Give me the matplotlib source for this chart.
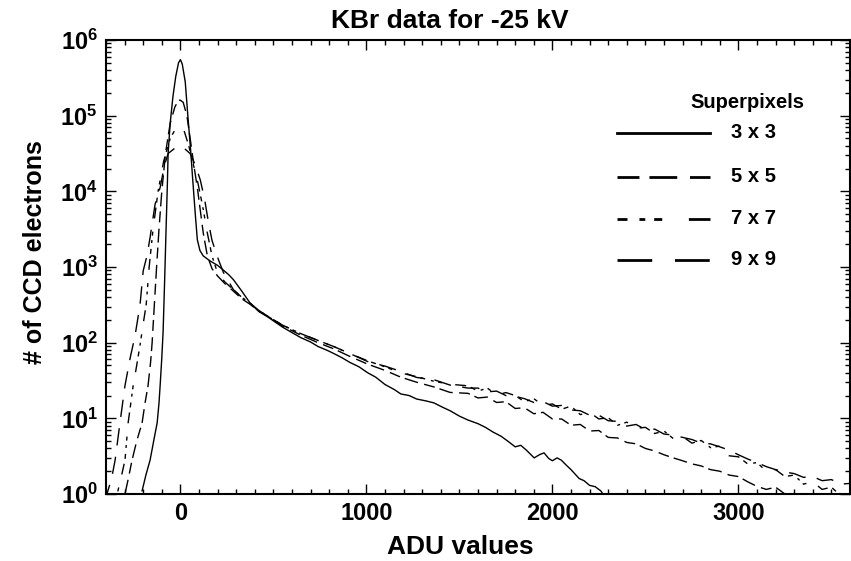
import math
import matplotlib
matplotlib.use('Agg')
import matplotlib.pyplot as plt
from matplotlib.ticker import FixedLocator, MultipleLocator, LogLocator, NullFormatter, FuncFormatter

plt.rcParams['font.family'] = ['Liberation Sans', 'DejaVu Sans']
plt.rcParams['font.weight'] = 'bold'
plt.rcParams['mathtext.fontset'] = 'custom'
plt.rcParams['mathtext.rm'] = 'Liberation Sans:bold'
plt.rcParams['mathtext.bf'] = 'Liberation Sans:bold'
plt.rcParams['mathtext.it'] = 'Liberation Sans:bold'

# ---------------- data ----------------
adu_3x3 = [-206, -185, -163, -140, -125, -115, -109, -100, -93, -85, -77, -70, -66, -55, -40, -25, -10, 0,
           10, 26, 40, 55, 64, 80, 91, 105, 123, 160, 200, 231, 260, 285, 330, 376, 420, 468, 550, 646,
           700, 740, 790, 824, 870, 910, 960, 1007, 1050, 1100, 1150, 1185, 1230, 1270, 1320, 1363, 1410,
           1450, 1500, 1546, 1600, 1640, 1680, 1724, 1760, 1800, 1830, 1860, 1902, 1930, 1955, 1980, 2000,
           2025, 2048, 2075, 2100, 2144, 2170, 2200, 2230, 2260, 2300]
cnt_3x3 = [1.1, 1.8, 2.8, 5.6, 8.7, 16, 27, 63, 140, 630, 3200, 12600, 32000, 79000, 180000, 330000, 500000, 550000,
           480000, 280000, 100000, 35000, 17000, 5000, 2300, 1650, 1400, 1200, 1050, 910, 790, 680, 480, 330, 260, 220, 160, 117,
           102, 89, 79, 72, 63, 55, 48, 40, 35, 28, 24, 21, 20, 18, 17, 16, 14,
           12.6, 10.7, 9.5, 8.5, 7.6, 6.6, 5.8, 5.0, 4.2, 4.4, 3.8, 3.0, 3.3, 3.5, 2.95, 2.75,
           3.0, 2.8, 2.4, 2.1, 1.6, 1.5, 1.3, 1.25, 1.1, 0.8]

adu_5x5 = [-310, -298, -280, -260, -235, -206, -190, -174, -160, -152, -140, -128, -115, -100, -80, -55, -30, -10, 0,
           15, 35, 55, 75, 91, 107, 123, 145, 170, 200, 240, 285, 330, 376, 420, 468, 550, 646, 740, 824, 910,
           1007, 1100, 1185, 1270, 1363, 1450,
           1546, 1600, 1650, 1700, 1750, 1800, 1850, 1900, 1950, 2000, 2050, 2100, 2150, 2200, 2250, 2300,
           2350, 2400, 2450, 2500, 2550, 2600, 2650, 2700, 2750, 2800, 2850, 2900, 2950, 3000, 3050, 3100,
           3150, 3200, 3250, 3300]
cnt_5x5 = [0.63, 1.0, 1.6, 2.8, 5.0, 8.7, 16, 27, 56, 100, 320, 1000, 3200, 10000, 32000, 79000, 130000, 160000, 160000,
           150000, 100000, 45000, 20000, 11200, 5600, 2800, 1400, 950, 760, 600, 480, 380, 320, 260, 225, 166, 126, 100, 83, 66,
           52, 43, 35, 30, 26, 22,
           21.4, 18.6, 19.1, 16.2, 16.6, 13.5, 13.8, 11.5, 12.0, 9.8, 9.8, 8.1, 8.3, 6.8, 6.9, 5.6,
           5.5, 4.8, 4.6, 4.0, 3.7, 3.3, 3.0, 2.75, 2.5, 2.35, 2.1, 2.0, 1.78, 1.7, 1.45, 1.26,
           1.15, 1.23, 1.0, 0.63]

adu_7x7 = [-360, -340, -320, -298, -281, -254, -235, -215, -200, -184, -168, -147, -120, -90, -55, -25, 0,
           20, 45, 70, 95, 120, 145, 170, 200, 240, 285, 330, 376, 420, 468, 550, 646, 740, 824, 910,
           1007, 1100, 1185, 1270, 1363, 1450,
           1546, 1600, 1650, 1700, 1750, 1800, 1850, 1900, 1950, 2000, 2050, 2100, 2150, 2200, 2250, 2300,
           2350, 2400, 2450, 2500, 2550, 2600, 2650, 2700, 2750, 2800, 2850, 2900, 2950, 3000, 3050, 3100,
           3150, 3200, 3250, 3300, 3350, 3400, 3450, 3500, 3550, 3600]
cnt_7x7 = [0.63, 1.0, 1.6, 2.8, 8.7, 27, 50, 100, 178, 316, 1000, 3160, 10000, 25000, 50000, 67600, 70800,
           63100, 40000, 22400, 12600, 6300, 2800, 1400, 830, 631, 501, 398, 331, 269, 224, 170, 132, 107, 89, 72,
           57.5, 47.9, 39.8, 35.5, 30.9, 28.2,
           26.9, 22.9, 25.1, 20.4, 21.9, 20.0, 16.6, 18.2, 14.8, 15.5, 13.2, 14.5, 11.2, 12.0, 9.8, 10.2,
           8.1, 8.9, 7.4, 7.6, 6.3, 6.8, 5.4, 5.75, 4.7, 5.1, 4.1, 4.3, 3.2, 3.1, 2.5, 2.6,
           2.0, 2.1, 1.7, 1.78, 1.35, 1.45, 1.15, 1.23, 0.95, 0.79]

adu_9x9 = [-400, -395, -370, -351, -325, -298, -270, -244, -217, -200, -180, -163, -136, -109, -85, -66, -30, 0,
           20, 52, 80, 107, 130, 150, 170, 204, 231, 285, 330, 376, 420, 468, 550, 646, 740, 824, 910,
           1007, 1100, 1185, 1270, 1363, 1450,
           1546, 1600, 1650, 1700, 1750, 1800, 1850, 1900, 1950, 2000, 2050, 2100, 2150, 2200, 2250, 2300,
           2350, 2400, 2450, 2500, 2550, 2600, 2650, 2700, 2750, 2800, 2850, 2900, 2950, 3000, 3050, 3100,
           3150, 3200, 3250, 3300, 3350, 3400, 3450, 3500, 3550, 3600]
cnt_9x9 = [0.79, 1.0, 1.6, 2.8, 8.7, 27, 63, 123, 316, 891, 1400, 2455, 6761, 11220, 22400, 31600, 37150, 38900,
           37150, 31600, 22400, 14100, 7900, 4000, 2240, 1260, 850, 501, 398, 331, 269, 224, 170, 132, 107, 89, 72,
           56.2, 49.0, 41.7, 34.7, 32.4, 27.5,
           25.1, 25.1, 22.4, 22.9, 20.0, 19.5, 18.2, 16.2, 16.6, 14.5, 14.8, 12.9, 12.6, 11.0, 11.0, 9.3,
           9.1, 7.9, 8.3, 7.1, 7.2, 6.2, 6.0, 5.6, 5.25, 4.7, 4.6, 4.2, 3.8, 3.3, 2.9, 2.6,
           2.3, 2.1, 1.95, 1.86, 1.66, 1.7, 1.5, 1.55, 1.35, 1.38]

labels = ['3 x 3', '5 x 5', '7 x 7', '9 x 9']
x_ticks = [0, 1000, 2000, 3000]
y_exponents = [0, 1, 2, 3, 4, 5, 6]

# ---------------- styles ----------------
data_lw = 1.0
leg_lw = 2.0
styles = [
    '-',
    (0, (7.9, 3.6, 10.0, 4.6)),
    (0, (3.6, 4.3, 2.1, 3.2, 2.9, 9.6, 7.9, 3.6)),
    (0, (12.5, 8.2)),
]
series = [(adu_3x3, cnt_3x3), (adu_5x5, cnt_5x5), (adu_7x7, cnt_7x7), (adu_9x9, cnt_9x9)]

W, H = 851, 561
fig = plt.figure(figsize=(W / 100, H / 100), dpi=100)
ax = fig.add_axes([106 / W, 1 - 494 / H, 744 / W, 454 / H])

for (xs, ys), ls in zip(series, styles):
    ax.plot(xs, ys, color='black', lw=data_lw, linestyle=ls, solid_joinstyle='round')

ax.set_yscale('log')
ax.set_xlim(-400, 3600)
ax.set_ylim(1, 1e6)

ax.xaxis.set_major_locator(FixedLocator(x_ticks))
ax.xaxis.set_minor_locator(MultipleLocator(100))
ax.yaxis.set_major_locator(FixedLocator([10.0 ** e for e in y_exponents]))
ax.yaxis.set_minor_locator(LogLocator(base=10, subs=range(2, 10), numticks=20))
ax.yaxis.set_minor_formatter(NullFormatter())
ax.yaxis.set_major_formatter(FuncFormatter(lambda v, p: r'$\mathbf{10^{%d}}$' % round(math.log10(v))))
ax.xaxis.set_major_formatter(FuncFormatter(lambda v, p: '%d' % v))

ax.tick_params(which='both', direction='in', top=True, right=True, width=1.0, colors='black')
ax.tick_params(which='major', length=7)
ax.tick_params(which='minor', length=3.5)
ax.tick_params(axis='x', which='major', labelsize=17, pad=6)
ax.tick_params(axis='y', which='major', labelsize=17, pad=6)
for lab in ax.get_xticklabels():
    lab.set_fontweight('bold')
for sp in ax.spines.values():
    sp.set_linewidth(1.5)

fig.text(460 / W, 1 - 547 / H, 'ADU values', ha='center', va='center', fontsize=19, fontweight='bold')
fig.text(35 / W, 1 - 252 / H, '# of CCD electrons', ha='center', va='center', rotation=90,
         fontsize=18, fontweight='bold')
fig.text(450 / W, 1 - 21 / H, 'KBr data for -25 kV', ha='center', va='center', fontsize=19, fontweight='bold')

# legend drawn in figure pixel coordinates
fig.text(690 / W, 1 - 102 / H, 'Superpixels', ha='left', va='center', fontsize=14.5, fontweight='bold')
rows = [133, 177, 219, 260]
for yrow, ls, lab in zip(rows, styles, labels):
    fig.add_artist(plt.Line2D([617 / W, 710 / W], [1 - yrow / H, 1 - yrow / H], color='black',
                              lw=leg_lw, linestyle=ls, transform=fig.transFigure))
    fig.text(731 / W, 1 - yrow / H, lab, ha='left', va='center', fontsize=14.5, fontweight='bold')

fig.savefig('out.png', dpi=100)
